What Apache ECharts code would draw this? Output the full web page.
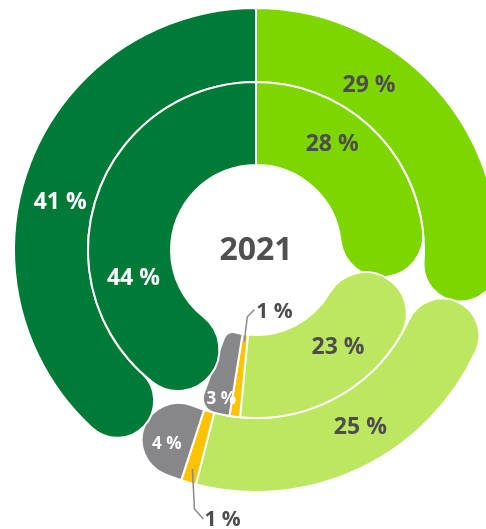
<!DOCTYPE html>
<html>
<head>
<meta charset="utf-8">
<script src="https://cdn.jsdelivr.net/npm/echarts@6/dist/echarts.min.js"></script>
<style>
  html, body { margin: 0; padding: 0; background: #fff; }
  #chart { width: 486px; height: 529px; }
</style>
</head>
<body>
<div id="chart"></div>
<script>
const categories = ['Segment A', 'Segment B', 'Segment C', 'Segment D', 'Segment E']
const outerValues = [29, 25, 1, 4, 41]
const innerValues = [28, 23, 1, 3, 44]
const centerText = '2021'

const colors = ['#7ed600', '#bde760', '#fdc300', '#86868b', '#007a37']
const labelColors = ['#4d4d50', '#4d4d50', '#4d4d50', '#ffffff', '#ffffff']
const labelSizes = [23, 23, 21, 17, 23]
// which end of each slice gets a round cap
const roundStart = [false, true, false, false, true]
const roundEnd = [true, false, false, true, false]

const chartCenter = [256, 250]
const outerRadius = [168, 242]
const innerRadius = [85, 168]

// small nudges for the labels inside the rings (style only)
const outerNudge = [[-49, -39], [0, 1], [0, 0], [-2, 9], [1, 10]]
const innerNudge = [[-22, -26], [7, -4], [0, 0], [-3, 27], [2, 50]]
// leader line for the tiny slice: start (fraction of ring), then two relative steps
const outerLeader = { at: 0.81, steps: [[2, 40], [9, 10]], gap: [1, 1] }
const innerLeader = { at: 0.09, steps: [[3, -25], [7, -7]], gap: [2, 2] }

const font = 'Open Sans'
const leaderIndex = 2

const sum = (arr) => arr.reduce((a, b) => a + b, 0)

const toRows = (values) => {
  let acc = 0
  return values.map((v, i) => {
    const row = [acc, acc + v, i]
    acc += v
    return row
  })
}

// ring slice with a full half-disc cap on the chosen ends
const ringPath = (cx, cy, r0, r, a0, a1, capStart, capEnd) => {
  const c = (r - r0) / 2
  const d = Math.atan(c / (r0 + c))
  const s = capStart ? a0 + d : a0
  const e = capEnd ? a1 - d : a1
  const pt = (rad, a) => (cx + rad * Math.cos(a)).toFixed(2) + ' ' + (cy + rad * Math.sin(a)).toFixed(2)
  const large = e - s > Math.PI ? 1 : 0
  let p = 'M ' + pt(r, s)
  p += ' A ' + r + ' ' + r + ' 0 ' + large + ' 1 ' + pt(r, e)
  p += capEnd ? ' A ' + c + ' ' + c + ' 0 0 1 ' + pt(r0, e) : ' L ' + pt(r0, e)
  p += ' A ' + r0 + ' ' + r0 + ' 0 ' + large + ' 0 ' + pt(r0, s)
  p += capStart ? ' A ' + c + ' ' + c + ' 0 0 1 ' + pt(r, s) : ' Z'
  return p
}

const makeRenderItem = (values, nudges, leader) => (params, api) => {
  const i = api.value(2)
  const cs = params.coordSys
  const start = api.value(0)
  const end = api.value(1)
  const angleOf = (v) => {
    const p = api.coord([1, v])
    return Math.atan2(p[1] - cs.cy, p[0] - cs.cx)
  }
  const a0 = angleOf(start)
  let a1 = angleOf(end)
  while (a1 <= a0) a1 += Math.PI * 2

  const c = (cs.r - cs.r0) / 2
  const capAngle = Math.atan(c / (cs.r0 + c))
  const nCaps = (roundStart[i] ? 1 : 0) + (roundEnd[i] ? 1 : 0)
  const style = { fill: colors[i], stroke: '#ffffff', lineWidth: 2 }
  let shapeEl
  if (a1 - a0 >= capAngle * nCaps) {
    shapeEl = {
      type: 'path',
      shape: { pathData: ringPath(cs.cx, cs.cy, cs.r0, cs.r, a0, a1, roundStart[i], roundEnd[i]) },
      style: style,
    }
  } else {
    // too narrow for a full cap: plain sector with rounded corners
    const s = roundStart[i] ? c : 0
    const e = roundEnd[i] ? c : 0
    shapeEl = {
      type: 'sector',
      shape: {
        cx: cs.cx, cy: cs.cy, r0: cs.r0, r: cs.r,
        startAngle: a0, endAngle: a1, clockwise: true,
        cornerRadius: [s, e, s, e],
      },
      style: style,
    }
  }
  const children = [shapeEl]

  const textStyle = {
    text: values[i] + ' %',
    fill: labelColors[i],
    fontSize: labelSizes[i],
    fontFamily: font,
    fontWeight: 'bold',
    verticalAlign: 'middle',
  }

  if (i === leaderIndex) {
    const p0 = api.coord([leader.at, (start + end) / 2])
    const pts = [[p0[0], p0[1]]]
    leader.steps.forEach((st) => {
      const last = pts[pts.length - 1]
      pts.push([last[0] + st[0], last[1] + st[1]])
    })
    const tail = pts[pts.length - 1]
    children.push({
      type: 'polyline',
      z2: 5,
      shape: { points: pts },
      style: { stroke: '#8a8a8e', lineWidth: 1.5, fill: null },
    })
    children.push({
      type: 'text',
      z2: 10,
      x: tail[0] + leader.gap[0],
      y: tail[1] + leader.gap[1],
      style: Object.assign({ align: 'left' }, textStyle),
    })
  } else {
    const mid = api.coord([0.5, (start + end) / 2])
    children.push({
      type: 'text',
      z2: 10,
      x: mid[0] + nudges[i][0],
      y: mid[1] + nudges[i][1],
      style: Object.assign({ align: 'center' }, textStyle),
    })
  }

  return { type: 'group', children: children }
}

const chart = echarts.init(document.getElementById('chart'))

chart.setOption({
  animation: false,
  backgroundColor: '#ffffff',
  polar: [
    { center: chartCenter, radius: outerRadius },
    { center: chartCenter, radius: innerRadius },
  ],
  angleAxis: [
    { polarIndex: 0, type: 'value', min: 0, max: sum(outerValues), startAngle: 90, clockwise: true, show: false },
    { polarIndex: 1, type: 'value', min: 0, max: sum(innerValues), startAngle: 90, clockwise: true, show: false },
  ],
  radiusAxis: [
    { polarIndex: 0, type: 'value', min: 0, max: 1, show: false },
    { polarIndex: 1, type: 'value', min: 0, max: 1, show: false },
  ],
  graphic: [
    {
      type: 'text',
      x: chartCenter[0],
      y: chartCenter[1] + 1,
      style: {
        text: centerText,
        align: 'center',
        verticalAlign: 'middle',
        fontFamily: font,
        fontWeight: 'bold',
        fontSize: 32,
        fill: '#505052',
      },
    },
  ],
  series: [
    {
      name: 'outer',
      type: 'custom',
      coordinateSystem: 'polar',
      polarIndex: 0,
      silent: true,
      renderItem: makeRenderItem(outerValues, outerNudge, outerLeader),
      data: toRows(outerValues),
    },
    {
      name: 'inner',
      type: 'custom',
      coordinateSystem: 'polar',
      polarIndex: 1,
      silent: true,
      renderItem: makeRenderItem(innerValues, innerNudge, innerLeader),
      data: toRows(innerValues),
    },
  ],
})
</script>
</body>
</html>
